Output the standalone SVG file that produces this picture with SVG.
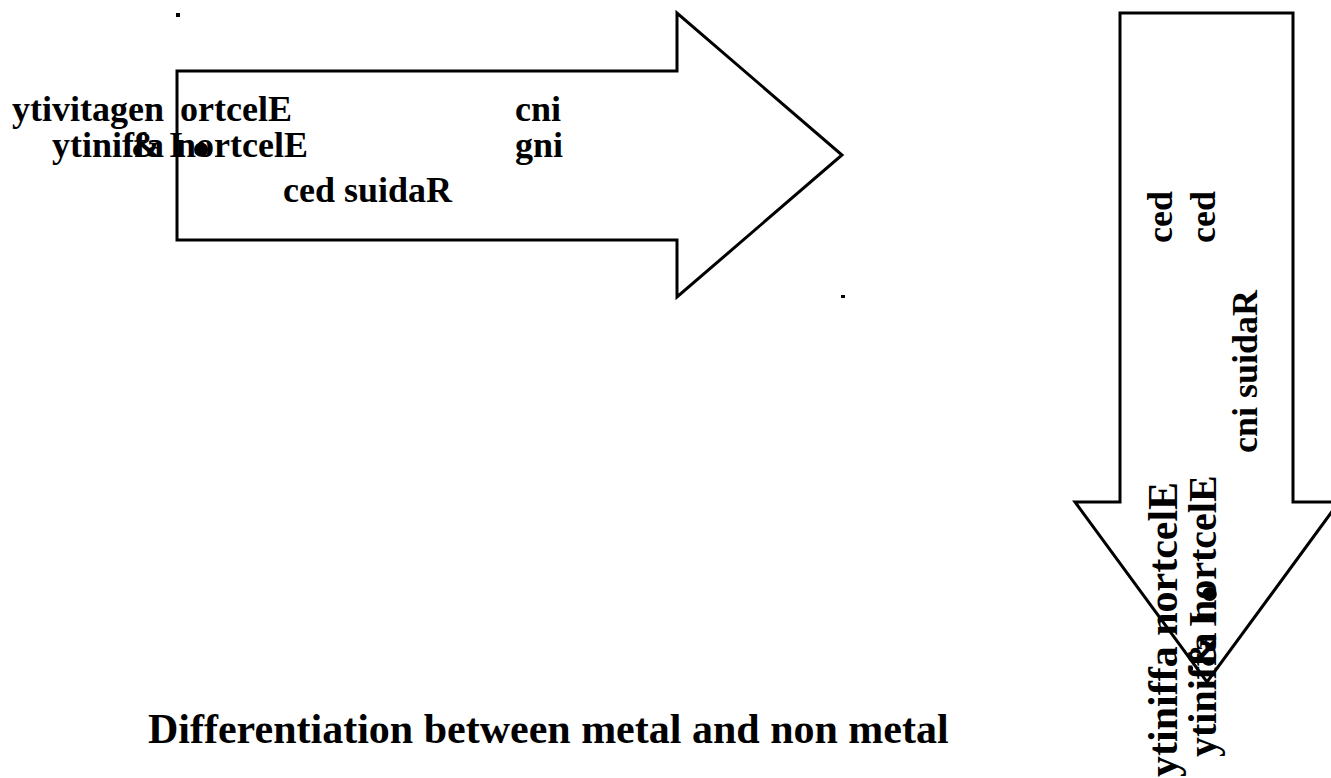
<svg xmlns="http://www.w3.org/2000/svg" width="1331" height="778" viewBox="0 0 1331 778">
  <style>
    .shape { fill: #ffffff; stroke: #000000; stroke-width: 3; stroke-linejoin: miter; }
    .t { font-family: "Liberation Serif", "Times New Roman", serif; font-weight: bold; font-size: 36px; fill: #000000; }
    .big { font-size: 42px; }
    .mid { font-size: 40px; }
    .blob { font-size: 52px; }
    .dot { fill: #000000; }
  </style>
  <rect width="1331" height="778" fill="#ffffff"/>

  <!-- right-pointing block arrow with its labels -->
  <g id="arrow-right">
    <polygon class="shape" points="177,71 677,71 677,13 842,155 677,297 677,240 177,240"/>
    <text class="t" x="12" y="121">ytivitagen</text>
    <text class="t" x="180" y="121">ortcelE</text>
    <text class="t" x="515" y="121">cni</text>
    <text class="t" x="52" y="157">ytiniffa</text>
    <text class="t" x="176" y="157">nortcelE</text>
    <text class="t" x="131" y="157">&amp;</text>
    <text class="t" x="169" y="157">I</text>
    <text class="t blob" x="192" y="167">•</text>
    <text class="t" x="515" y="157">gni</text>
    <text class="t" x="283" y="202">ced suidaR</text>
  </g>

  <!-- downward block arrow with its rotated labels -->
  <g id="arrow-down">
    <polygon class="shape" points="1120,13 1293,13 1293,502 1339,502 1207,682 1075,502 1120,502"/>
    <text class="t" transform="translate(1172,243) rotate(-90)">ced</text>
    <text class="t" transform="translate(1215,243) rotate(-90)">ced</text>
    <text class="t" transform="translate(1257,453) rotate(-90)">cni suidaR</text>
    <text class="t big" transform="translate(1177,777) rotate(-90)">ytiniffa nortcelE</text>
    <text class="t mid" transform="translate(1216,757) rotate(-90)">ytiniffa</text>
    <text class="t mid" transform="translate(1216,622) rotate(-90)">nortcelE</text>
    <text class="t mid" transform="translate(1216,668) rotate(-90)">&amp;</text>
    <text class="t mid" transform="translate(1216,627) rotate(-90)">I</text>
    <text class="t blob" transform="translate(1227,603) rotate(-90)">•</text>
  </g>

  <!-- small corner marks -->
  <g id="marks">
    <rect class="dot" x="176" y="13" width="4" height="4"/>
    <rect class="dot" x="841" y="295" width="4" height="3"/>
    <rect class="dot" x="1190" y="667" width="3" height="3"/>
  </g>

  <g id="title">
    <text class="t big" x="148" y="743">Differentiation between metal and non metal</text>
  </g>
</svg>
